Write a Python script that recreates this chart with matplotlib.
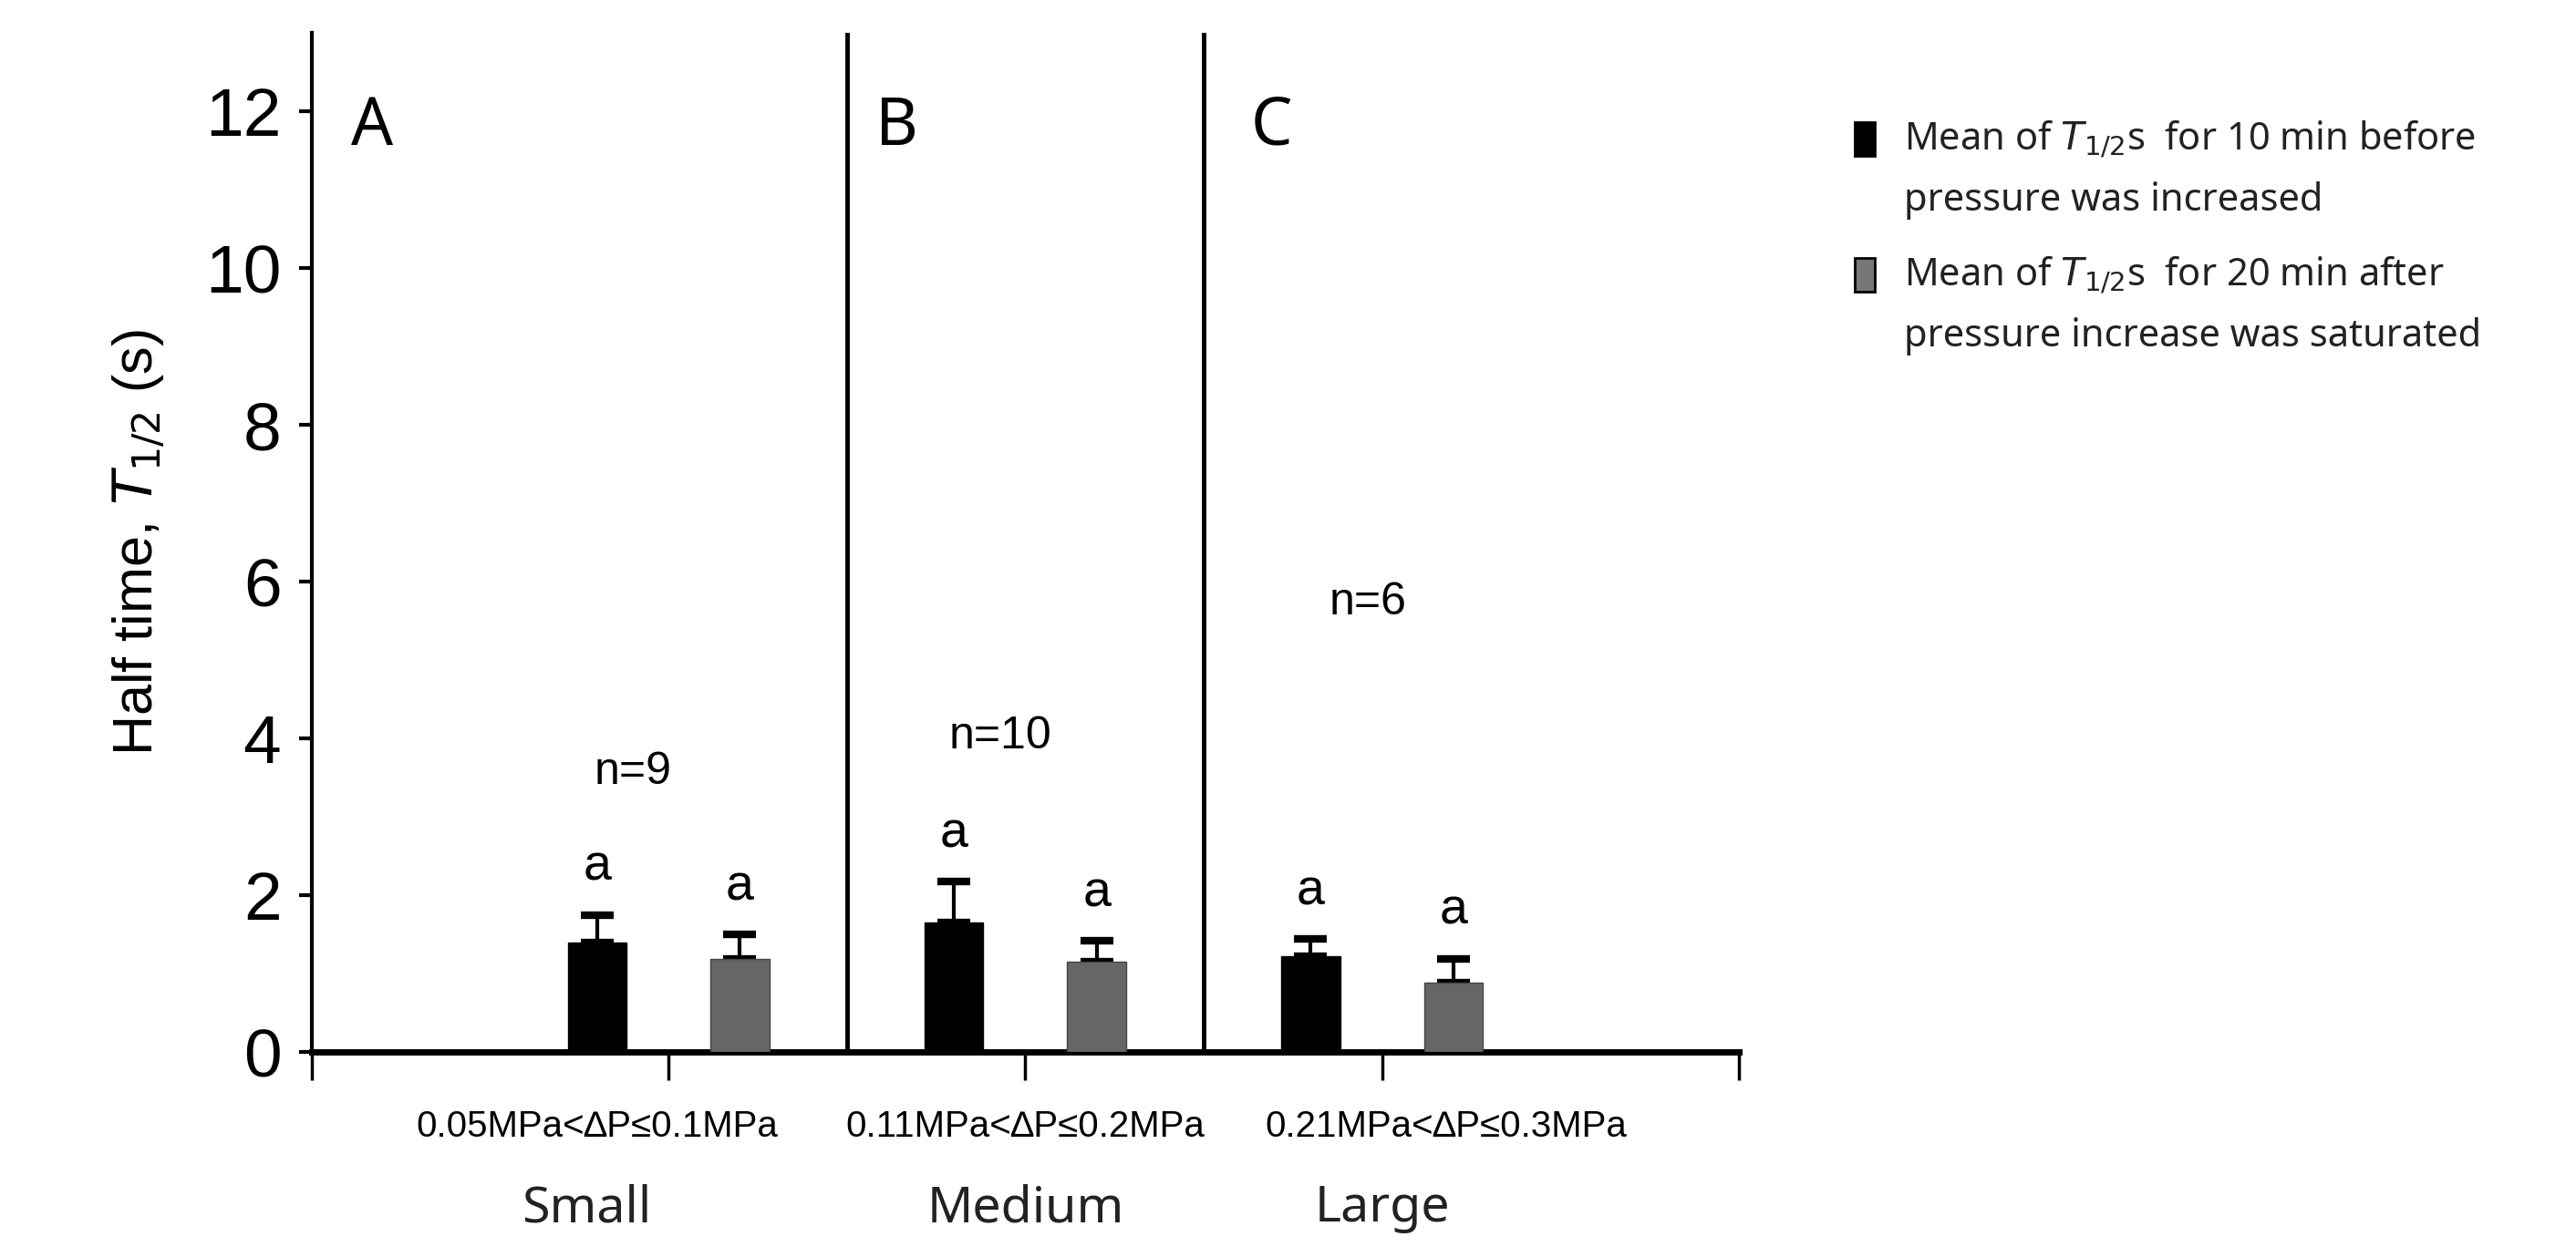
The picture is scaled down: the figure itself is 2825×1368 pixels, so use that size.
import matplotlib
matplotlib.use("Agg")
import matplotlib.pyplot as plt
from matplotlib.patches import Rectangle

groups = ["Small", "Medium", "Large"]
ranges = ["0.05MPa<∆P≤0.1MPa", "0.11MPa<∆P≤0.2MPa", "0.21MPa<∆P≤0.3MPa"]
before = [1.40, 1.65, 1.22]
before_err = [0.35, 0.52, 0.22]
after = [1.19, 1.15, 0.88]
after_err = [0.31, 0.27, 0.31]
n_labels = ["n=9", "n=10", "n=6"]
n_y = [3.57, 4.03, 5.74]
panels = ["A", "B", "C"]

fig = plt.figure(figsize=(28.25, 13.68), dpi=100)
ax = fig.add_axes([0.121, 0.1564, 0.554, 0.817])
ax.set_xlim(0, 4)
ax.set_ylim(0, 13)

pos = [1, 2, 3]
w = 0.165
xb = [p - 0.2 for p in pos]
xa = [p + 0.2 for p in pos]
ax.bar(xb, before, w, color="black", edgecolor="black", zorder=3)
ax.bar(xa, after, w, color="#666666", edgecolor="#444444", zorder=3)
ax.errorbar(xb, before, yerr=[[0]*3, before_err], fmt="none", ecolor="black",
            elinewidth=3, capsize=13, capthick=6, zorder=2)
ax.errorbar(xa, after, yerr=[[0]*3, after_err], fmt="none", ecolor="black",
            elinewidth=3, capsize=13, capthick=6, zorder=2)
for x, v, e in zip(xb + xa, before + after, before_err + after_err):
    ax.text(x, v + e + 0.3, "a", ha="center", va="bottom", fontsize=40, family="Liberation Sans")

for x in [1.5, 2.5]:
    ax.axvline(x, color="black", lw=3.5)
for i, (lab, ny) in enumerate(zip(n_labels, n_y)):
    ax.text([0.9, 1.93, 2.96][i], ny, lab,
            ha="center", va="center", fontsize=36, family="Liberation Sans")
for x, p in zip([0.17, 1.64, 2.69], panels):
    ax.text(x, 11.8, p, ha="center", va="center", fontsize=52, fontweight="bold",
            family="Noto Sans")

for s in ["top", "right"]:
    ax.spines[s].set_visible(False)
ax.spines["left"].set_linewidth(3)
ax.spines["bottom"].set_linewidth(5)
ax.set_xticks([0, 1, 2, 3, 4])
ax.set_xticklabels([])
ax.tick_params(axis="x", length=22, width=2.5, direction="out")
ax.set_yticks(range(0, 13, 2))
ax.tick_params(axis="y", length=10, width=3, labelsize=54, pad=14)
for t in ax.get_yticklabels():
    t.set_family("Liberation Sans")
ax.set_ylabel("Half time, $T_{1/2}$ (s)", fontsize=44, family="Liberation Sans", labelpad=30)

for x, r in zip([0.80, 2.0, 3.18], ranges):
    ax.text(x, -0.95, r, ha="center", va="center", fontsize=29,
            family="Liberation Sans", clip_on=False)
for x, g in zip([0.77, 2.0, 3.0], groups):
    ax.text(x, -2.0, g, ha="center", va="center", fontsize=40, family="Noto Sans",
            color="#222222", clip_on=False)

# legend
leg = [("black", "Mean of $T_{1/2}$s  for 10 min before", "pressure was increased"),
       ("#777777", "Mean of $T_{1/2}$s  for 20 min after", "pressure increase was saturated")]
for i, (c, l1, l2) in enumerate(leg):
    y1 = 1 - (153 + 149 * i) / 1368
    y2 = 1 - (220 + 149 * i) / 1368
    fig.patches.append(Rectangle((2034 / 2825, y1 - 0.013), 22 / 2825, 0.027,
                                 transform=fig.transFigure, facecolor=c,
                                 edgecolor="black", lw=2))
    fig.text(2088 / 2825, y1, l1, fontsize=30, fontweight="bold", family="Noto Sans",
             va="center", color="#222222")
    fig.text(2088 / 2825, y2, l2, fontsize=30, fontweight="bold", family="Noto Sans",
             va="center", color="#222222")

fig.savefig("out.png", dpi=100, facecolor="white")
